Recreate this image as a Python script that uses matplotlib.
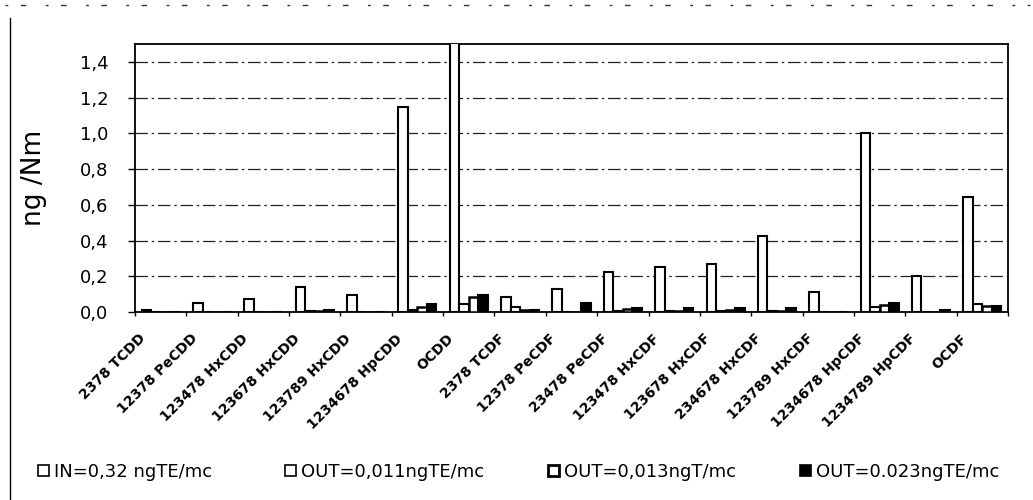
import matplotlib
matplotlib.use("Agg")
import matplotlib.pyplot as plt
import matplotlib.transforms as mtransforms
from matplotlib.patches import Patch
from matplotlib.lines import Line2D
import numpy as np

plt.rcParams['font.family'] = ['DejaVu Sans']

categories = ["2378 TCDD", "12378 PeCDD", "123478 HxCDD", "123678 HxCDD",
              "123789 HxCDD", "1234678 HpCDD", "OCDD", "2378 TCDF",
              "12378 PeCDF", "23478 PeCDF", "123478 HxCDF", "123678 HxCDF",
              "234678 HxCDF", "123789 HxCDF", "1234678 HpCDF",
              "1234789 HpCDF", "OCDF"]
in_vals = [0.01, 0.05, 0.075, 0.14, 0.095, 1.15, 1.9, 0.085, 0.13, 0.225,
           0.25, 0.27, 0.425, 0.11, 1.0, 0.2, 0.645]
out1_vals = [0, 0, 0, 0.005, 0, 0.01, 0.045, 0.028, 0, 0.005, 0.008, 0.008,
             0.008, 0, 0.028, 0, 0.045]
out2_vals = [0, 0, 0, 0.005, 0, 0.03, 0.085, 0.01, 0, 0.015, 0.008, 0.01,
             0.008, 0, 0.037, 0, 0.034]
out3_vals = [0, 0, 0, 0.01, 0, 0.045, 0.095, 0.01, 0.05, 0.025, 0.02, 0.02,
             0.02, 0, 0.048, 0.01, 0.034]
series_labels = ["IN=0,32 ngTE/mc", "OUT=0,011ngTE/mc", "OUT=0,013ngT/mc",
                 "OUT=0.023ngTE/mc"]
yticks = [0.0, 0.2, 0.4, 0.6, 0.8, 1.0, 1.2, 1.4]
ytick_labels = ["0,0", "0,2", "0,4", "0,6", "0,8", "1,0", "1,2", "1,4"]

fig = plt.figure(figsize=(10.33, 5.0), dpi=100)
ax = fig.add_axes([135/1033, 1-312/500, 873/1033, 268/500])

x = np.arange(len(categories))
w = 0.185
series = [in_vals, out1_vals, out2_vals, out3_vals]
faces = ["white", "white", "white", "black"]
lws = [1.5, 1.5, 1.8, 1.5]
for i, (vals, fc, lw) in enumerate(zip(series, faces, lws)):
    ax.bar(x + (i - 1.5) * w, vals, width=w, facecolor=fc, edgecolor="black",
           linewidth=lw, zorder=3)

ax.set_xlim(-0.5, len(categories) - 0.5)
ax.set_ylim(0, 1.5)
ax.set_yticks(yticks)
ax.set_yticklabels(ytick_labels, fontsize=13)
ax.tick_params(axis='y', direction='out', length=5, width=1, pad=14)
ax.yaxis.grid(True, color="#222222", linewidth=0.9, linestyle=(0, (10, 3, 2, 3)))
ax.set_axisbelow(True)

ax.set_xticks(x)
ax.set_xticklabels(categories, fontsize=10, fontweight='bold', rotation=45,
                   ha='right', va='top', rotation_mode='anchor')
ax.tick_params(axis='x', length=0, pad=14)
ax.set_xticks(np.arange(-0.5, len(categories), 1), minor=True)
ax.tick_params(axis='x', which='minor', length=3, width=1, direction='out')
offset = mtransforms.ScaledTranslation(-0.22, 0, fig.dpi_scale_trans)
for lab in ax.get_xticklabels():
    lab.set_transform(lab.get_transform() + offset)

for sp in ax.spines.values():
    sp.set_linewidth(1.3)
    sp.set_color("black")

fig.text(34/1033, 1-178/500, "ng /Nm", rotation=90, fontsize=19,
         ha='center', va='center')

handle_lws = [1.2, 1.2, 2.0, 1.2]
legend_x = [38, 285, 548, 800]
for fc, lw, lab, lx in zip(faces, handle_lws, series_labels, legend_x):
    h = Patch(facecolor=fc, edgecolor="black", linewidth=lw)
    fig.legend([h], [lab], loc='center left',
               bbox_to_anchor=(lx/1033, 1-472/500), frameon=False,
               fontsize=13, handlelength=0.6, handleheight=0.6,
               handletextpad=0.3, borderpad=0, borderaxespad=0)

fig.add_artist(Line2D([10/1033, 10/1033], [0, 0.965], color='black',
                      linewidth=1.0, transform=fig.transFigure))
fig.add_artist(Line2D([5/1033, 1030/1033], [0.99, 0.99], color='#333333',
                      linewidth=1.0, linestyle=(0, (2, 9, 4, 14)),
                      transform=fig.transFigure))

fig.savefig("out.png", dpi=100)
